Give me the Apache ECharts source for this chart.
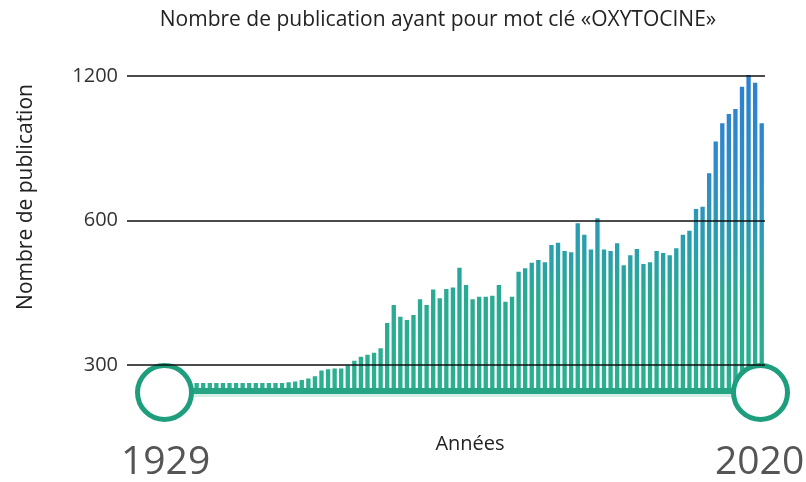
<!DOCTYPE html>
<html>
<head>
<meta charset="utf-8">
<script src="https://cdn.jsdelivr.net/npm/echarts@6/dist/echarts.min.js"></script>
<style>
  html, body { margin: 0; padding: 0; background: #fff; }
  #chart { width: 806px; height: 482px; }
</style>
</head>
<body>
<div id="chart"></div>
<script>
// années 1929 -> 2020
const years = Array.from({ length: 92 }, (_, i) => 1929 + i);

// nombre de publications par année
const publications = [
  275, 275, 275, 275, 275, 275, 275, 275, 275, 275,
  275, 275, 275, 275, 275, 275, 275, 275, 275, 276,
  277, 279, 281, 284, 292, 294, 295, 295, 299, 306,
  312, 315, 318, 325, 367, 400, 378, 372, 381, 411,
  400, 431, 413, 432, 435, 478, 440, 411, 416, 416,
  418, 440, 406, 416, 469, 477, 490, 496, 491, 533,
  539, 518, 515, 592, 560, 522, 606, 522, 518, 538,
  484, 508, 523, 487, 491, 518, 513, 508, 525, 560,
  571, 634, 641, 752, 876, 956, 1000, 1024, 1140, 1205,
  1162, 956
];

// lignes de repère
const gridValues = [300, 600, 1200];

const myChart = echarts.init(document.getElementById('chart'));

// dégradé vert -> bleu selon la hauteur
const barColor = new echarts.graphic.LinearGradient(0, 60, 0, 390, [
  { offset: 0, color: '#2c7fd1' },
  { offset: 0.35, color: '#2e8cc8' },
  { offset: 0.55, color: '#2a9eb0' },
  { offset: 0.72, color: '#29ab93' },
  { offset: 1, color: '#2bb08f' }
], true);

const options = {
  title: {
    text: 'Nombre de publication ayant pour mot clé «OXYTOCINE»',
    left: 433,
    top: 5,
    textAlign: 'center',
    textStyle: {
      fontFamily: 'Open Sans',
      fontSize: 21,
      fontWeight: 'normal',
      color: '#222'
    }
  },
  grid: {
    left: 127,
    right: 41,
    top: 62,
    bottom: 92
  },
  xAxis: {
    type: 'value',
    min: 1923.4,
    max: 2020.5,
    name: 'Années',
    nameLocation: 'middle',
    nameGap: 44,
    nameTextStyle: {
      fontFamily: 'Open Sans',
      fontSize: 20,
      color: '#222',
      padding: [0, 0, 0, 48]
    },
    axisLine: { show: false },
    axisTick: { show: false },
    axisLabel: { show: false },
    splitLine: { show: false }
  },
  yAxis: {
    type: 'log',
    logBase: 2,
    min: 266,
    max: 1283,
    name: 'Nombre de publication',
    nameLocation: 'middle',
    nameGap: 90,
    nameTextStyle: {
      fontFamily: 'Open Sans',
      fontSize: 21,
      color: '#222',
      padding: [0, 0, 0, 58]
    },
    axisLine: { show: false },
    axisTick: { show: false },
    axisLabel: { show: false },
    splitLine: { show: false }
  },
  dataZoom: [
    {
      type: 'slider',
      xAxisIndex: 0,
      filterMode: 'none',
      start: 0,
      end: 100,
      left: 160,
      right: 48,
      top: 388,
      height: 9,
      showDetail: false,
      showDataShadow: false,
      brushSelect: false,
      moveHandleSize: 0,
      borderColor: 'transparent',
      backgroundColor: 'transparent',
      fillerColor: new echarts.graphic.LinearGradient(0, 0, 0, 1, [
        { offset: 0, color: '#d4efe7' },
        { offset: 0.35, color: '#d4efe7' },
        { offset: 0.36, color: '#26a584' },
        { offset: 1, color: '#26a584' }
      ]),
      handleIcon: 'circle',
      handleSize: 54,
      handleStyle: {
        color: '#fff',
        borderColor: '#1f9e7e',
        borderWidth: 5
      }
    }
  ],
  graphic: [
    {
      type: 'text',
      left: 121,
      top: 443,
      style: {
        text: String(years[0]),
        fontFamily: 'Open Sans',
        fontSize: 39,
        fill: '#555'
      }
    },
    {
      type: 'text',
      left: 715,
      top: 443,
      style: {
        text: String(years[years.length - 1]),
        fontFamily: 'Open Sans',
        fontSize: 39,
        fill: '#555'
      }
    }
  ],
  series: [
    {
      type: 'bar',
      barWidth: '66%',
      clip: true,
      itemStyle: { color: barColor },
      data: years.map((y, i) => [y, publications[i]]),
      markLine: {
        silent: true,
        symbol: 'none',
        lineStyle: { color: '#111', width: 1.5, type: 'solid' },
        label: {
          position: 'start',
          distance: 9,
          fontFamily: 'Open Sans',
          fontSize: 20,
          color: '#333',
          formatter: (p) => String(p.value)
        },
        data: gridValues.map((v) => ({ yAxis: v }))
      }
    }
  ]
};

myChart.setOption(options);
</script>
</body>
</html>
